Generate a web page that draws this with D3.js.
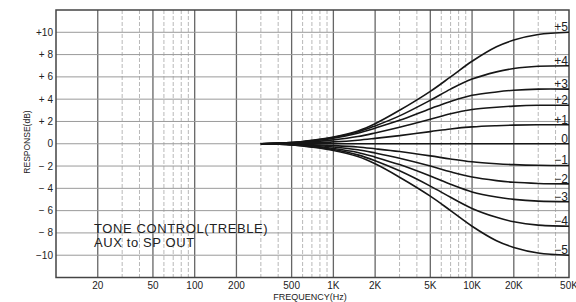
<!doctype html>
<html lang="en">
<head>
<meta charset="UTF-8">
<script src="https://d3js.org/d3.v7.min.js"></script>
<style>
body { margin: 0; background: #fff; }
svg { display: block; font-family: "Liberation Sans", Arial, sans-serif; }
.grid-h { stroke: #9a9a9a; stroke-width: 1; }
.grid-major { stroke: #666; stroke-width: 1.3; }
.grid-minor { stroke: #b0b0b0; stroke-width: 0.9; stroke-dasharray: 4,2; }
.frame { fill: none; stroke: #444; stroke-width: 1.5; }
.curve { fill: none; stroke: #161616; stroke-width: 1.6; }
.tick { fill: #222; font-size: 10px; }
.lbl { fill: #222; font-size: 12px; }
</style>
</head>
<body>
<div id="main"></div>
<script>
var freqs = [300, 500, 700, 1000, 1500, 2000, 3000, 5000, 7000, 10000, 15000, 20000, 30000, 50000];

// response (dB) for each treble setting
var curveNames = ["+5", "+4", "+3", "+2", "+1", "0", "\u22121", "\u22122", "\u22123", "\u22124", "\u22125"];
var treblePlus5  = [0, 0.1, 0.3, 0.6, 1.15, 1.8, 3.0, 4.7, 6.0, 7.4, 8.7, 9.3, 9.8, 10.0];
var treblePlus4  = [0, 0.1, 0.28, 0.56, 1.05, 1.6, 2.5, 3.9, 4.9, 5.8, 6.45, 6.75, 6.95, 7.0];
var treblePlus3  = [0, 0.1, 0.25, 0.5, 0.95, 1.4, 2.1, 3.15, 3.8, 4.35, 4.65, 4.8, 4.9, 4.9];
var treblePlus2  = [0, 0.07, 0.17, 0.35, 0.65, 0.97, 1.48, 2.2, 2.7, 3.07, 3.28, 3.38, 3.45, 3.45];
var treblePlus1  = [0, 0.03, 0.09, 0.17, 0.32, 0.48, 0.73, 1.09, 1.33, 1.51, 1.62, 1.67, 1.7, 1.7];
var trebleZero   = [0, 0, 0, 0, 0, 0, 0, 0, 0, 0, 0, 0, 0, 0];
var trebleMinus1 = [0, -0.03, -0.08, -0.16, -0.29, -0.45, -0.7, -1.09, -1.37, -1.62, -1.79, -1.87, -1.93, -1.95];
var trebleMinus2 = [0, -0.05, -0.14, -0.29, -0.54, -0.83, -1.3, -2.0, -2.52, -2.99, -3.31, -3.46, -3.56, -3.6];
var trebleMinus3 = [0, -0.08, -0.2, -0.42, -0.78, -1.2, -1.87, -2.9, -3.64, -4.32, -4.78, -4.99, -5.15, -5.2];
var trebleMinus4 = [0, -0.1, -0.26, -0.52, -1.0, -1.52, -2.43, -3.8, -4.8, -5.8, -6.6, -7.0, -7.3, -7.4];
var trebleMinus5 = [0, -0.1, -0.3, -0.6, -1.15, -1.8, -3.0, -4.7, -6.0, -7.4, -8.7, -9.3, -9.8, -10.0];

var series = [treblePlus5, treblePlus4, treblePlus3, treblePlus2, treblePlus1, trebleZero,
              trebleMinus1, trebleMinus2, trebleMinus3, trebleMinus4, trebleMinus5];

var yTicks = [10, 8, 6, 4, 2, 0, -2, -4, -6, -8, -10];
var yTickLabels = ["+10", "+ 8", "+ 6", "+ 4", "+ 2", "0", "\u2212 2", "\u2212 4", "\u2212 6", "\u2212 8", "\u221210"];
var xTicks = [20, 50, 100, 200, 500, 1000, 2000, 5000, 10000, 20000, 50000];
var xTickLabels = ["20", "50", "100", "200", "500", "1K", "2K", "5K", "10K", "20K", "50K"];

var width = 576, height = 302;
var pL = 56, pR = 569, pT = 10, pB = 277.5;

var x = d3.scaleLog().domain([10, 50000]).range([pL, pR]);
var y = d3.scaleLinear().domain([-12, 12]).range([pB, pT]);

var svg = d3.select("#main").append("svg")
  .attr("width", width)
  .attr("height", height);

// vertical grid: 1-2-5 lines darker, the rest light
var vlines = [];
[10, 100, 1000, 10000].forEach(function(dec) {
  for (var m = 1; m <= 9; m++) {
    var f = dec * m;
    if (f >= 20 && f < 50000) vlines.push(f);
  }
});

svg.selectAll(".vl")
  .data(vlines).enter()
  .append("line")
  .attr("class", function(f) {
    var m = Math.round(f / Math.pow(10, Math.floor(Math.log10(f) + 1e-9)));
    return (m === 1 || m === 2 || m === 5) ? "grid-major" : "grid-minor";
  })
  .attr("x1", function(f) { return x(f); })
  .attr("x2", function(f) { return x(f); })
  .attr("y1", pT)
  .attr("y2", pB);

svg.selectAll(".hl")
  .data(yTicks).enter()
  .append("line")
  .attr("class", "grid-h")
  .attr("x1", pL)
  .attr("x2", pR)
  .attr("y1", function(d) { return y(d); })
  .attr("y2", function(d) { return y(d); });

svg.append("rect")
  .attr("class", "frame")
  .attr("x", pL)
  .attr("y", pT)
  .attr("width", pR - pL)
  .attr("height", pB - pT);

// y tick labels
svg.selectAll(".ytl")
  .data(yTicks).enter()
  .append("text")
  .attr("class", "tick")
  .attr("x", pL - 3)
  .attr("y", function(d) { return y(d) + 3.5; })
  .attr("text-anchor", "end")
  .style("white-space", "pre")
  .text(function(d, i) { return yTickLabels[i]; });

// x tick labels
svg.selectAll(".xtl")
  .data(xTicks).enter()
  .append("text")
  .attr("class", "tick")
  .attr("x", function(d) { return x(d); })
  .attr("y", 289)
  .attr("text-anchor", "middle")
  .text(function(d, i) { return xTickLabels[i]; });

svg.append("text")
  .attr("class", "tick")
  .attr("x", 310)
  .attr("y", 300)
  .attr("text-anchor", "middle")
  .style("font-size", "9px")
  .text("FREQUENCY(Hz)");

svg.append("text")
  .attr("class", "tick")
  .attr("transform", "translate(30,142) rotate(-90)")
  .attr("text-anchor", "middle")
  .style("font-size", "8.5px")
  .text("RESPONSE(dB)");

// curves
var line = d3.line()
  .x(function(d) { return x(d[0]); })
  .y(function(d) { return y(d[1]); })
  .curve(d3.curveCatmullRom.alpha(0.5));

svg.selectAll(".curve")
  .data(series).enter()
  .append("path")
  .attr("class", "curve")
  .attr("d", function(vals) {
    return line(vals.map(function(v, i) { return [freqs[i], v]; }));
  });

svg.selectAll(".lbl")
  .data(series).enter()
  .append("text")
  .attr("class", "lbl")
  .attr("x", pR - 1)
  .attr("y", function(vals) { return y(vals[vals.length - 1]) - 1; })
  .attr("text-anchor", "end")
  .text(function(d, i) { return curveNames[i]; });

// annotation
var note = svg.append("text")
  .attr("fill", "#222")
  .style("font-size", "13px")
  .style("letter-spacing", "0.6px");
note.append("tspan").attr("x", 94).attr("y", 233).text("TONE CONTROL(TREBLE)");
note.append("tspan").attr("x", 94).attr("y", 247).text("AUX to SP OUT");
</script>
</body>
</html>
